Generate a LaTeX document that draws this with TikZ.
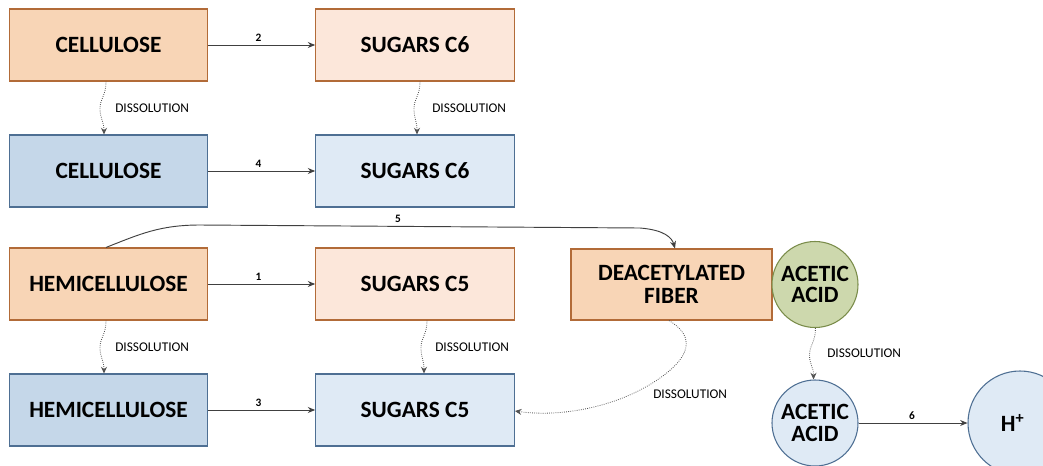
\documentclass[tikz,border=0pt]{standalone}
\usepackage{fontspec}
\setmainfont{Carlito}
\usetikzlibrary{arrows.meta}
\definecolor{orfill}{HTML}{F8D5B6}
\definecolor{orlfill}{HTML}{FCE7DA}
\definecolor{ordraw}{HTML}{B26B38}
\definecolor{blfill}{HTML}{C5D7E9}
\definecolor{bllfill}{HTML}{DFEAF5}
\definecolor{bldraw}{HTML}{4E6F93}
\definecolor{grfill}{HTML}{CDD8AD}
\definecolor{grdraw}{HTML}{7A8C4A}
\definecolor{arr}{HTML}{404040}
\tikzset{
  box/.style={rectangle, line width=0.8pt, minimum width=149pt, minimum height=54pt, inner sep=0pt,
    font=\fontsize{17.5}{20}\selectfont\bfseries, align=center},
  orbox/.style={box, fill=orfill, draw=ordraw},
  orlbox/.style={box, fill=orlfill, draw=ordraw},
  blbox/.style={box, fill=blfill, draw=bldraw},
  bllbox/.style={box, fill=bllfill, draw=bldraw},
  circ/.style={circle, line width=0.8pt, minimum size=64.5pt, inner sep=0pt,
    font=\fontsize{17.5}{19}\selectfont\bfseries, align=center},
  react/.style={draw=arr, line width=0.7pt, -{Stealth[length=5.5pt,width=4.5pt]}},
  diss/.style={draw=arr!90, line width=0.6pt, densely dotted, -{Stealth[length=5pt,width=4.5pt]}},
  num/.style={font=\fontsize{8.5}{10}\selectfont\bfseries, inner sep=0pt},
  disslab/.style={font=\fontsize{10}{12}\selectfont, inner sep=0pt, anchor=west},
}
\begin{document}
\begin{tikzpicture}[x=0.75pt,y=-0.75pt]
\useasboundingbox (0,0) rectangle (1043,465);
\clip (0,0) rectangle (1043,465);
% boxes
\node[orbox] (cel1) at (108.5,45) {CELLULOSE};
\node[orlbox] (sug6a) at (415,45) {SUGARS C6};
\node[blbox] (cel2) at (108.5,171) {CELLULOSE};
\node[bllbox] (sug6b) at (415,171) {SUGARS C6};
\node[orbox] (hem1) at (108.5,284) {HEMICELLULOSE};
\node[orlbox] (sug5a) at (415,284) {SUGARS C5};
\node[blbox] (hem2) at (108.5,410) {HEMICELLULOSE};
\node[bllbox] (sug5b) at (415,410) {SUGARS C5};
\node[orbox, minimum width=150.75pt, minimum height=53.25pt] (fib) at (671.5,284.5) {DEACETYLATED\\[-3pt]FIBER};
\node[circ, fill=grfill, draw=grdraw] (acg) at (815,284.5) {ACETIC\\[-3pt]ACID};
\node[circ, fill=bllfill, draw=bldraw] (acb) at (815,423) {ACETIC\\[-3pt]ACID};
\node[circ, fill=bllfill, draw=bldraw, minimum size=78pt] (hp) at (1020,423) {\hspace*{-11pt}H\textsuperscript{+}};
% reaction arrows
\draw[react] (cel1.east) -- (sug6a.west) node[num, pos=0.47, above=2.5pt] (n2) {2};
\draw[react] (cel2.east) -- (sug6b.west) node[num, pos=0.47, above=2.5pt] (n4) {4};
\draw[react] (hem1.east) -- (sug5a.west) node[num, pos=0.47, above=2.5pt] (n1) {1};
\draw[react] (hem2.east) -- (sug5b.west) node[num, pos=0.47, above=2.5pt] (n3) {3};
\draw[react] (acb.east) -- (hp.west) node[num, pos=0.49, above=2.5pt] (n6) {6};
% reaction 5
\draw[react] ([shift={(-2.5,0)}]hem1.north) .. controls (140,234) and (160,225) .. (200,225)
  -- (640,228) .. controls (665,230) and (672,238) .. ([shift={(3.5,0)}]fib.north);
\node[num] (n5) at (398,219) {5};
% dissolution
\draw[diss] ([shift={(-2.5,0)}]cel1.south) .. controls +(0,14) and +(0,-10) .. ++(-6,27)
  .. controls +(0,10) and +(0,-13) .. ([shift={(-4.5,0)}]cel2.north);
\node[disslab] (d1) at (115,108) {DISSOLUTION};
\draw[diss] ([shift={(5,0)}]sug6a.south) .. controls +(0,14) and +(0,-10) .. ++(-6,27)
  .. controls +(0,10) and +(0,-13) .. ([shift={(2,0)}]sug6b.north);
\node[disslab] (d2) at (432,108) {DISSOLUTION};
\draw[diss] ([shift={(-2.5,0)}]hem1.south) .. controls +(0,14) and +(0,-10) .. ++(-6,27)
  .. controls +(0,10) and +(0,-13) .. ([shift={(-4.5,0)}]hem2.north);
\node[disslab] (d3) at (115,347) {DISSOLUTION};
\draw[diss] ([shift={(12,0)}]sug5a.south) .. controls +(0,14) and +(0,-10) .. ++(-6,27)
  .. controls +(0,10) and +(0,-13) .. ([shift={(9,0)}]sug5b.north);
\node[disslab] (d4) at (435,347) {DISSOLUTION};
\draw[diss] ([shift={(0.5,0)}]acg.south) .. controls +(0,14) and +(0,-10) .. ++(-6,27)
  .. controls +(0,10) and +(0,-13) .. ([shift={(-1.5,0)}]acb.north);
\node[disslab] (d5) at (827,353) {DISSOLUTION};
\draw[diss] ([shift={(-2.5,0)}]fib.south) .. controls (690,333) and (697,352) .. (660,378)
  .. controls (622,405) and (565,418) .. ([shift={(0,1)}]sug5b.east);
\node[disslab] (d6) at (653,394) {DISSOLUTION};
\end{tikzpicture}
\end{document}
